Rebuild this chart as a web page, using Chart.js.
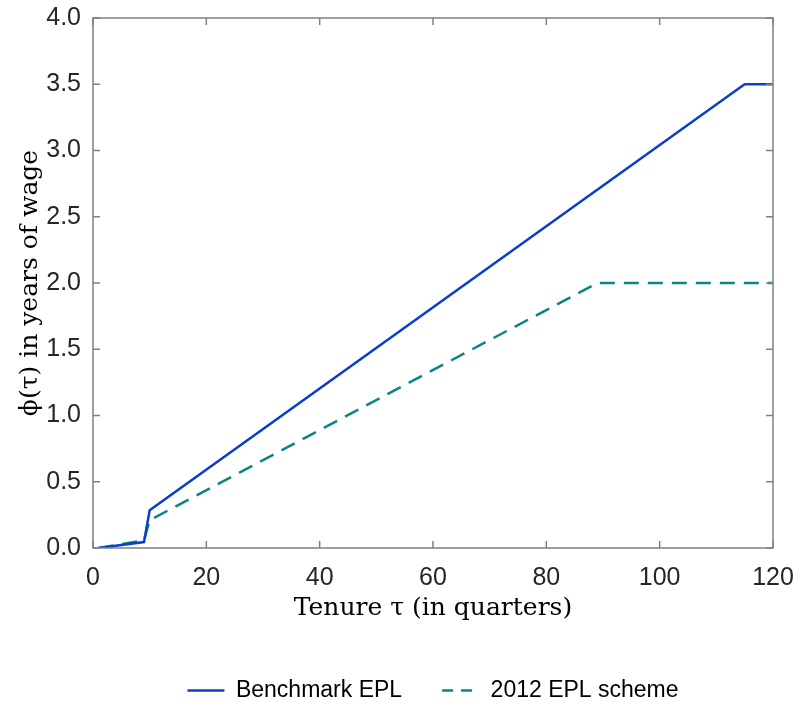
<!DOCTYPE html>
<html>
<head>
<meta charset="utf-8">
<script src="https://cdn.jsdelivr.net/npm/chart.js@4.4.1/dist/chart.umd.min.js"></script>
<style>
  html, body { margin: 0; padding: 0; background: #fff; }
  #wrap { width: 795px; height: 702px; }
</style>
</head>
<body>
<div id="wrap"><canvas id="myChart" width="795" height="702"></canvas></div>
<script>
"use strict";

// tenure (quarters) where the schemes change slope
const benchTenure = [1, 9, 10, 114, 115, 120];
const benchValues = [0, 0.045, 0.285, 3.47, 3.5, 3.5];

const schemeTenure = [1, 9, 10, 89, 120];
const schemeValues = [0, 0.058, 0.21, 2.0, 2.0];

const yTicks = [0, 0.5, 1, 1.5, 2, 2.5, 3, 3.5, 4];
const xTicks = [0, 20, 40, 60, 80, 100, 120];

const tickFont = { family: "Liberation Sans, Arial, Helvetica", size: 25 };
const legendFont = { family: "Liberation Sans, Arial, Helvetica", size: 23 };
const titleFont = { family: "DejaVu Serif, serif", size: 25 };

function toPoints(xs, ys) {
  const pts = [];
  for (let i = 0; i < xs.length; i++) {
    pts.push({ x: xs[i], y: ys[i] });
  }
  return pts;
}

// box around the plot and ticks pointing inwards, matlab style
const boxPlugin = {
  id: "box",
  afterDraw(chart) {
    const ctx = chart.ctx;
    const a = chart.chartArea;
    const xs = chart.scales.x;
    const ys = chart.scales.y;
    const len = 7;
    ctx.save();
    ctx.strokeStyle = "#808080";
    ctx.lineWidth = 1.5;
    ctx.beginPath();
    xTicks.forEach(v => {
      const px = xs.getPixelForValue(v);
      ctx.moveTo(px, a.bottom);
      ctx.lineTo(px, a.bottom - len);
      ctx.moveTo(px, a.top);
      ctx.lineTo(px, a.top + len);
    });
    yTicks.forEach(v => {
      const py = ys.getPixelForValue(v);
      ctx.moveTo(a.left, py);
      ctx.lineTo(a.left + len, py);
      ctx.moveTo(a.right, py);
      ctx.lineTo(a.right - len, py);
    });
    ctx.stroke();
    ctx.strokeRect(a.left, a.top, a.right - a.left, a.bottom - a.top);
    ctx.restore();
  }
};

const data = {
  datasets: [
    {
      label: "Benchmark EPL",
      data: toPoints(benchTenure, benchValues),
      borderColor: "#0a3fc8",
      backgroundColor: "#0a3fc8",
      borderWidth: 2.5,
      pointRadius: 0,
      pointStyle: "line",
      tension: 0
    },
    {
      label: "2012 EPL scheme",
      data: toPoints(schemeTenure, schemeValues),
      borderColor: "#0a8585",
      backgroundColor: "#0a8585",
      borderWidth: 2.5,
      borderDash: [15, 9],
      pointRadius: 0,
      pointStyle: "line",
      tension: 0
    }
  ]
};

// legend items keep the dash of their line
function legendLabels(chart) {
  const items = Chart.defaults.plugins.legend.labels.generateLabels(chart);
  items.forEach(item => {
    const ds = chart.data.datasets[item.datasetIndex];
    item.lineDash = ds.borderDash ? [11, 8] : [];
    item.lineWidth = ds.borderWidth;
    item.strokeStyle = ds.borderColor;
  });
  return items;
}

const config = {
  type: "line",
  data: data,
  plugins: [boxPlugin],
  options: {
    responsive: false,
    animation: false,
    layout: { padding: { top: 18, right: 22, left: 0, bottom: -10 } },
    plugins: {
      tooltip: { enabled: false },
      legend: {
        position: "bottom",
        fullSize: false,
        labels: {
          color: "#000",
          font: legendFont,
          usePointStyle: true,
          pointStyle: "line",
          pointStyleWidth: 37,
          boxWidth: 37,
          boxHeight: 20,
          padding: 40,
          generateLabels: legendLabels
        }
      }
    },
    scales: {
      x: {
        type: "linear",
        min: 0,
        max: 120,
        afterBuildTicks: s => { s.ticks = xTicks.map(v => ({ value: v })); },
        afterFit: s => { s.height = 91; s.paddingLeft = 0; s.paddingRight = 0; },
        grid: { display: false, drawTicks: false },
        border: { display: false },
        ticks: { color: "#262626", font: tickFont, padding: 15, maxRotation: 0 },
        title: { display: true, text: "Tenure \u03C4 (in quarters)", color: "#000", font: titleFont, padding: { top: 0, bottom: 16 } }
      },
      y: {
        type: "linear",
        min: 0,
        max: 4,
        afterBuildTicks: s => { s.ticks = yTicks.map(v => ({ value: v })); },
        afterFit: s => { s.width = 93; s.paddingTop = 0; s.paddingBottom = 0; },
        grid: { display: false, drawTicks: false },
        border: { display: false },
        ticks: { color: "#262626", font: tickFont, padding: 12, callback: v => v.toFixed(1) },
        title: { display: true, text: "\u03D5(\u03C4) in years of wage", color: "#000", font: titleFont, padding: { top: 15, bottom: 4 } }
      }
    }
  }
};

const myChart = new Chart(document.getElementById("myChart"), config);
</script>
</body>
</html>
